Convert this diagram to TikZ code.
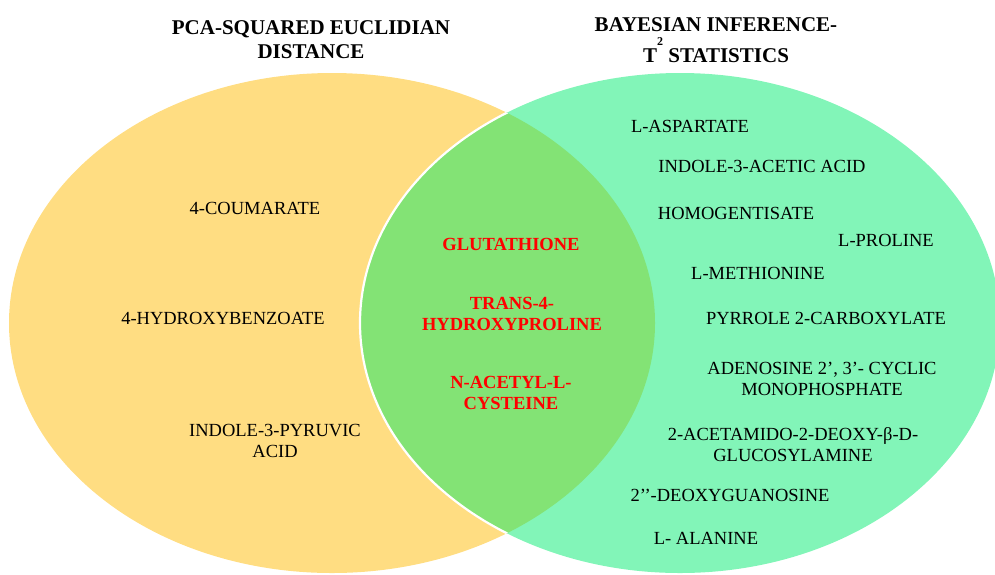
\documentclass[tikz,border=0pt]{standalone}
\usepackage{fontspec}
\setmainfont{Liberation Serif}
\definecolor{setA}{HTML}{FFDD82}
\definecolor{setB}{HTML}{82F5B8}
\definecolor{setAB}{HTML}{83E375}
\definecolor{shared}{HTML}{FF0000}
\tikzset{
  heading/.style={font=\fontsize{21}{24}\selectfont\bfseries, align=center, inner sep=0pt},
  item/.style={font=\fontsize{18.5}{21}\selectfont, align=center, inner sep=0pt},
  shareditem/.style={item, font=\fontsize{18.5}{21}\selectfont\bfseries, text=shared},
}
% small raised index used in the right heading
\newcommand{\hisup}[1]{\smash{\raisebox{16.5pt}{\fontsize{12}{12}\selectfont\bfseries #1}}}
\begin{document}
\begin{tikzpicture}[x=1pt,y=-1pt]
\useasboundingbox (0,0) rectangle (995,574);
\begin{scope}
  \clip (0,0) rectangle (995,574);
  % the two sets
  \fill[setA] (332,323) ellipse [x radius=323, y radius=250];
  \fill[setB] (680,323) ellipse [x radius=320, y radius=250];
  % their overlap, with the white rim of the right set
  \begin{scope}
    \clip (332,323) ellipse [x radius=323, y radius=250];
    \fill[setAB] (680,323) ellipse [x radius=320, y radius=250];
    \draw[white, line width=2.2pt] (680,323) ellipse [x radius=320, y radius=250];
  \end{scope}
\end{scope}

% headings
\node[heading] (hA) at (311,40) {PCA-SQUARED EUCLIDIAN\\DISTANCE};
\node[heading] (hB) at (716,40) {BAYESIAN INFERENCE-\\[7pt]T\hisup{2} STATISTICS};

% left set only
\node[item] (a1) at (255,208) {4-COUMARATE};
\node[item] (a2) at (223,318) {4-HYDROXYBENZOATE};
\node[item] (a3) at (275,440.5) {INDOLE-3-PYRUVIC\\ACID};

% both sets
\node[shareditem] (c1) at (511,244) {GLUTATHIONE};
\node[shareditem] (c2) at (512,313.5) {TRANS-4-\\HYDROXYPROLINE};
\node[shareditem] (c3) at (511,393) {N-ACETYL-L-\\CYSTEINE};

% right set only
\node[item] (b1) at (690,126) {L-ASPARTATE};
\node[item] (b2) at (762,166) {INDOLE-3-ACETIC ACID};
\node[item] (b3) at (736,213) {HOMOGENTISATE};
\node[item] (b4) at (886,240) {L-PROLINE};
\node[item] (b5) at (758,273) {L-METHIONINE};
\node[item] (b6) at (826,318) {PYRROLE 2-CARBOXYLATE};
\node[item] (b7) at (822,379) {ADENOSINE 2’, 3’- CYCLIC\\MONOPHOSPHATE};
\node[item] (b8) at (793,445) {2-ACETAMIDO-2-DEOXY-β-D-\\GLUCOSYLAMINE};
\node[item] (b9) at (730,495) {2’’-DEOXYGUANOSINE};
\node[item] (b10) at (706,538) {L- ALANINE};
\end{tikzpicture}
\end{document}
